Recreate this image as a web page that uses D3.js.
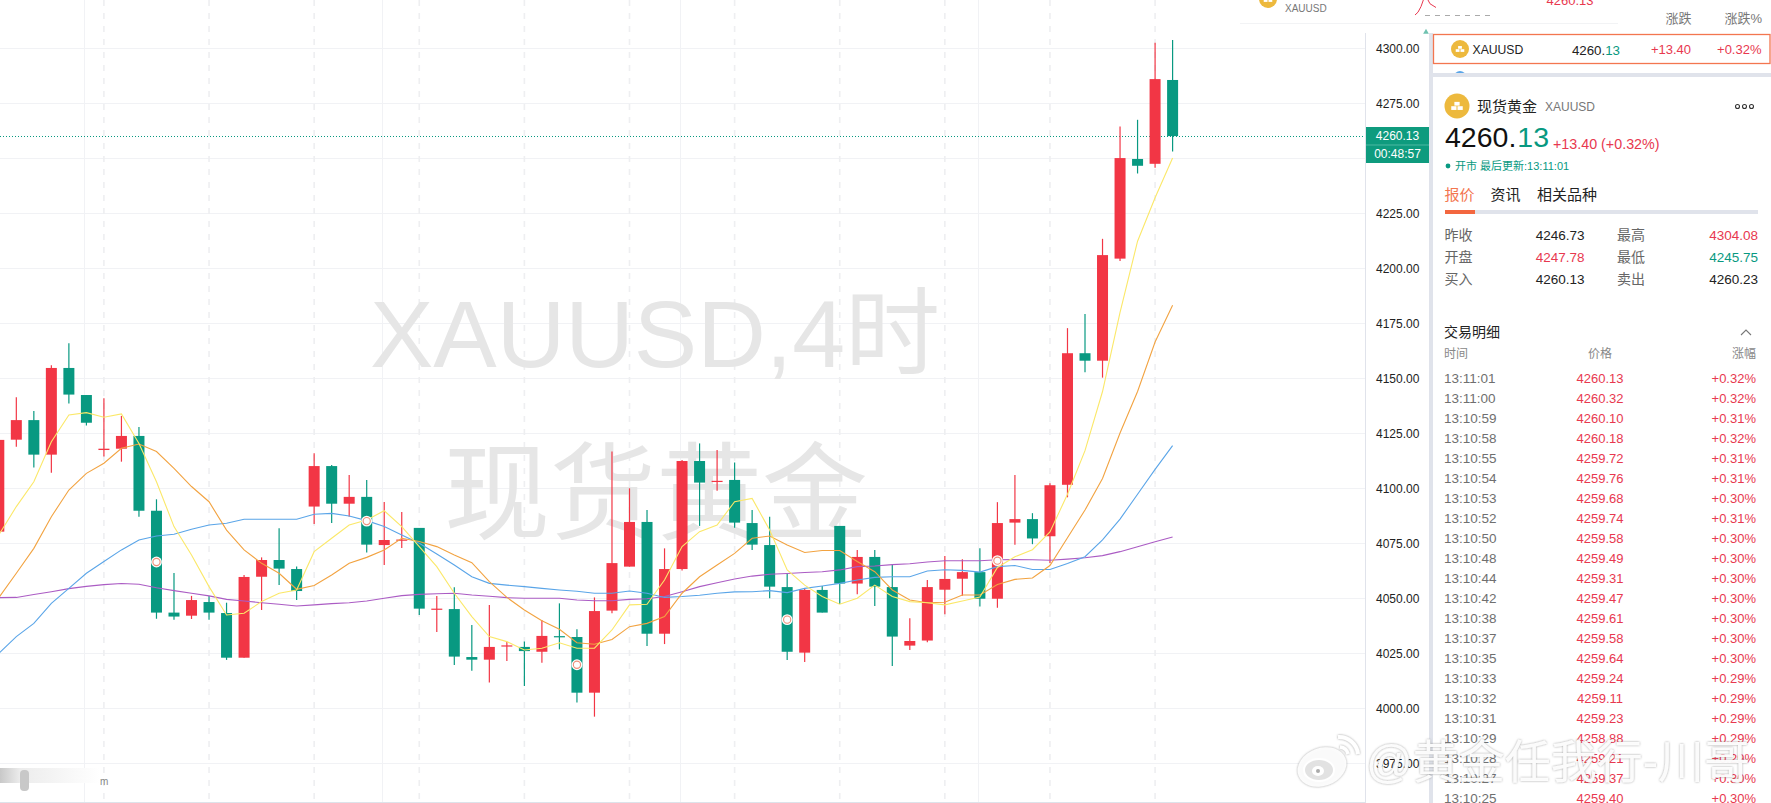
<!DOCTYPE html>
<html>
<head>
<meta charset="utf-8">
<script src="https://cdnjs.cloudflare.com/ajax/libs/d3/7.8.5/d3.min.js"></script>
<style>
html, body { margin: 0; padding: 0; background: #fff; overflow: hidden; }
svg { display: block; }
text { font-family: "Liberation Sans", "Noto Sans CJK SC", sans-serif; }
</style>
</head>
<body>
<svg id="chart" width="1771" height="803"></svg>
<script>
const open = [4080.3,4122.1,4131.0,4115.3,4154.7,4142.4,4117.4,4118.0,4123.8,4089.8,4043.5,4042.1,4048.3,4043.3,4023.0,4059.8,4067.4,4063.3,4091.7,4110.1,4093.0,4096.1,4074.2,4076.3,4082.0,4044.9,4045.1,4023.3,4022.1,4028.1,4027.9,4025.7,4032.8,4032.4,4007.1,4044.4,4064.4,4084.7,4033.9,4063.3,4112.4,4103.0,4103.8,4084.2,4074.2,4055.1,4025.3,4053.8,4082.9,4056.7,4068.8,4055.1,4028.5,4030.8,4053.9,4058.9,4061.9,4049.8,4084.4,4086.0,4078.2,4101.6,4161.4,4158.0,4204.4,4249.7,4247.5,4285.6];
const close = [4122.0,4131.0,4115.3,4154.7,4142.6,4129.8,4118.0,4123.8,4089.8,4043.5,4041.7,4049.2,4043.5,4023.0,4059.7,4067.4,4063.5,4053.3,4110.1,4093.0,4096.1,4074.4,4076.5,4076.7,4045.3,4045.3,4023.5,4022.1,4027.9,4028.6,4026.0,4032.9,4032.4,4007.1,4044.2,4066.0,4084.7,4033.9,4063.3,4112.4,4102.6,4103.4,4084.4,4074.4,4055.3,4025.7,4053.8,4043.5,4056.7,4068.8,4055.3,4032.6,4030.6,4055.1,4058.8,4061.9,4049.8,4084.2,4086.0,4077.2,4101.4,4161.4,4158.0,4206.0,4250.1,4246.6,4286.0,4260.1];
const high = [4122.0,4141.4,4135.1,4155.9,4165.9,4142.4,4140.9,4132.9,4127.9,4095.0,4061.5,4051.1,4051.1,4048.0,4060.6,4068.6,4081.8,4064.4,4115.9,4110.6,4106.1,4103.8,4093.8,4089.2,4082.0,4051.1,4055.0,4037.9,4047.0,4030.3,4030.4,4040.1,4047.7,4035.9,4050.4,4116.7,4100.0,4090.1,4072.7,4112.9,4120.4,4117.4,4111.7,4090.1,4087.1,4061.3,4054.5,4055.6,4082.9,4071.9,4071.9,4065.1,4040.9,4058.3,4069.2,4067.7,4072.7,4093.7,4106.1,4088.7,4102.3,4172.8,4179.2,4213.4,4264.5,4267.5,4302.5,4303.8];
const low = [4080.3,4118.9,4109.4,4107.1,4138.5,4128.5,4114.4,4112.1,4087.1,4040.7,4040.2,4040.6,4040.2,4022.0,4023.0,4044.7,4056.0,4049.2,4083.8,4084.2,4087.1,4070.8,4065.1,4072.9,4042.4,4034.7,4019.7,4017.1,4011.7,4021.5,4010.1,4020.7,4026.8,4002.6,3996.2,4043.2,4064.4,4028.3,4029.2,4062.6,4082.9,4098.9,4082.1,4071.9,4050.0,4021.9,4021.1,4043.5,4047.4,4051.8,4046.5,4019.2,4026.5,4030.0,4042.7,4051.2,4046.3,4045.7,4074.3,4074.6,4066.0,4095.9,4152.8,4150.3,4203.3,4243.1,4245.7,4253.1];

const ma5 = [4078.8,4091.7,4103.0,4121.2,4133.3,4134.4,4132.3,4133.8,4120.4,4103.0,4082.6,4069.7,4055.3,4042.4,4043.2,4048.5,4052.3,4053.8,4071.2,4077.3,4083.3,4085.6,4089.8,4082.6,4073.5,4064.4,4052.3,4041.7,4032.6,4030.3,4026.5,4027.3,4029.8,4027.3,4027.3,4035.6,4047.0,4047.3,4058.3,4073.5,4080.3,4083.3,4093.9,4095.4,4081.0,4062.9,4056.0,4050.8,4047.3,4050.0,4056.0,4050.8,4048.5,4048.0,4047.0,4048.8,4050.6,4064.0,4068.9,4072.1,4080.2,4097.3,4117.1,4144.0,4180.0,4212.3,4232.1,4250.1];
const ma10 = [4050.3,4061.4,4072.7,4087.1,4099.2,4106.8,4111.4,4118.2,4120.1,4116.7,4109.1,4100.8,4093.9,4081.0,4072.0,4065.9,4061.4,4054.1,4055.8,4060.6,4065.9,4068.6,4072.0,4077.3,4075.8,4073.5,4069.7,4066.2,4057.6,4050.4,4044.7,4039.8,4035.9,4029.8,4029.1,4031.3,4037.1,4038.6,4041.7,4052.3,4059.8,4065.1,4070.4,4077.3,4078.3,4074.2,4070.8,4071.7,4071.7,4066.7,4062.1,4053.8,4049.2,4048.0,4048.2,4051.5,4051.5,4056.3,4058.6,4059.2,4064.9,4077.5,4090.1,4104.5,4125.1,4144.0,4166.5,4183.2];
const ma30 = [4025.0,4032.6,4038.6,4047.7,4054.5,4061.4,4066.7,4072.0,4076.5,4078.3,4079.1,4081.4,4083.3,4084.1,4085.9,4085.9,4085.9,4085.9,4088.2,4088.6,4087.4,4085.3,4082.6,4078.8,4075.0,4070.1,4065.1,4059.8,4056.8,4056.0,4055.3,4054.5,4053.8,4053.2,4052.3,4052.3,4053.3,4052.3,4050.4,4050.8,4051.4,4052.3,4052.9,4053.0,4053.5,4052.6,4054.5,4055.6,4056.8,4058.3,4059.5,4059.8,4059.8,4062.4,4063.0,4062.7,4061.9,4064.4,4064.9,4063.1,4063.1,4065.8,4068.9,4076.6,4086.0,4097.3,4108.6,4119.4];
const ma60 = [4050.3,4050.4,4051.7,4053.0,4054.4,4055.4,4056.2,4056.7,4056.4,4054.8,4053.5,4052.3,4051.1,4049.5,4048.8,4048.0,4047.3,4046.5,4047.0,4047.6,4048.0,4048.8,4050.0,4051.2,4051.8,4052.1,4052.3,4051.5,4050.9,4050.3,4050.0,4050.0,4050.0,4049.2,4048.9,4048.9,4049.5,4049.8,4050.8,4053.0,4055.3,4057.1,4058.8,4060.1,4060.9,4061.3,4061.7,4062.1,4062.9,4064.4,4064.7,4065.3,4065.7,4066.5,4067.1,4067.1,4067.1,4067.5,4067.6,4067.5,4067.3,4067.8,4068.4,4069.4,4071.2,4073.4,4075.7,4077.9];

const priceTicks = [4300,4275,4225,4200,4175,4150,4125,4100,4075,4050,4025,4000,3975];
const gridPrices = [4300,4275,4250,4225,4200,4175,4150,4125,4100,4075,4050,4025,4000,3975];
const lastPrice = 4260.13;
const countdown = '00:48:57';

// circle flags sitting on the candles
const flagIndex = [9, 21, 33, 45, 57];
const flagPrice = [4066.5, 4085.1, 4019.8, 4040.3, 4067.1];

const sessionIndex = [6,12,18,24,30,36,42,48,54,60,66];
const dayIndex = [4.92,21.92,38.92,55.92];

const tickTimes = ['13:11:01','13:11:00','13:10:59','13:10:58','13:10:55','13:10:54','13:10:53','13:10:52','13:10:50','13:10:48','13:10:44','13:10:42','13:10:38','13:10:37','13:10:35','13:10:33','13:10:32','13:10:31','13:10:29','13:10:28','13:10:27','13:10:25'];
const tickPrices = ['4260.13','4260.32','4260.10','4260.18','4259.72','4259.76','4259.68','4259.74','4259.58','4259.49','4259.31','4259.47','4259.61','4259.58','4259.64','4259.24','4259.11','4259.23','4258.88','4259.21','4259.37','4259.40'];
const tickPct = ['+0.32%','+0.32%','+0.31%','+0.32%','+0.31%','+0.31%','+0.30%','+0.31%','+0.30%','+0.30%','+0.30%','+0.30%','+0.30%','+0.30%','+0.30%','+0.29%','+0.29%','+0.29%','+0.29%','+0.29%','+0.30%','+0.30%'];

const quoteLeftLabels = ['昨收','开盘','买入'];
const quoteLeftValues = ['4246.73','4247.78','4260.13'];
const quoteRightLabels = ['最高','最低','卖出'];
const quoteRightValues = ['4304.08','4245.75','4260.23'];
const tabs = ['报价','资讯','相关品种'];

const sparkValues = [0, 3, 9, 18, 18, 12, 10, 8];

const RED = '#f23645', GREEN = '#089981', TEXTRED = '#e8384f', PANELGREY = '#e0e3eb';

const svg = d3.select('#chart');
const x = d3.scaleLinear().domain([0, 67]).range([-1.2, 1172.6]);
const y = d3.scaleLinear().domain([4300, 4000]).range([48.3, 708.3]);
const indices = d3.range(open.length);

const defs = svg.append('defs');
defs.append('clipPath').attr('id', 'plot').append('rect').attr('width', 1366).attr('height', 803);
const fade = defs.append('linearGradient').attr('id', 'fade');
fade.append('stop').attr('offset', 0).attr('stop-color', '#c8c8c8');
fade.append('stop').attr('offset', 0.2).attr('stop-color', '#ececec');
fade.append('stop').attr('offset', 1).attr('stop-color', '#fff');
const glow = defs.append('filter').attr('id', 'glow')
    .attr('x', '-5%').attr('y', '-15%').attr('width', '110%').attr('height', '130%');
glow.append('feDropShadow').attr('dx', 0).attr('dy', 0).attr('stdDeviation', 1.3)
    .attr('flood-color', '#777').attr('flood-opacity', 0.75);

const plot = svg.append('g').attr('clip-path', 'url(#plot)');

// grid
plot.selectAll('.hgrid').data(gridPrices).join('line')
    .attr('x1', 0).attr('x2', 1366)
    .attr('y1', d => y(d)).attr('y2', d => y(d))
    .attr('stroke', '#f1f2f5').attr('stroke-width', 1)
    .attr('shape-rendering', 'crispEdges');
plot.selectAll('.vgrid').data(dayIndex).join('line')
    .attr('x1', d => x(d)).attr('x2', d => x(d))
    .attr('y1', 0).attr('y2', 802)
    .attr('stroke', '#f1f2f5').attr('stroke-width', 1)
    .attr('shape-rendering', 'crispEdges');
plot.selectAll('.vsession').data(sessionIndex).join('line')
    .attr('x1', d => x(d)).attr('x2', d => x(d))
    .attr('y1', 0).attr('y2', 802)
    .attr('stroke', '#eeeff1').attr('stroke-width', 1.6)
    .attr('stroke-dasharray', '6,7');

// big watermark behind the candles
plot.append('text').attr('x', 655).attr('y', 367)
    .attr('text-anchor', 'middle').attr('font-size', 95).attr('fill', '#e6e6e6')
    .text('XAUUSD,4时');
plot.append('text').attr('x', 656).attr('y', 531)
    .attr('text-anchor', 'middle').attr('font-size', 106).attr('fill', '#e6e6e6')
    .text('现货黄金');

// last price line
plot.append('line')
    .attr('x1', 0).attr('x2', 1366)
    .attr('y1', y(lastPrice)).attr('y2', y(lastPrice))
    .attr('stroke', GREEN).attr('stroke-width', 1).attr('stroke-dasharray', '1,2')
    .attr('shape-rendering', 'crispEdges');

// moving averages
const maLine = d3.line().x((d, i) => x(i)).y(d => y(d));
const maSeries = [
    {values: ma60, color: '#ab5cc4'},
    {values: ma30, color: '#5aa5e8'},
    {values: ma10, color: '#f2a341'},
    {values: ma5, color: '#fbe869'}
];

// candles
const candles = plot.selectAll('.candle').data(indices).join('g');
candles.append('line')
    .attr('x1', i => x(i)).attr('x2', i => x(i))
    .attr('y1', i => y(high[i])).attr('y2', i => y(low[i]))
    .attr('stroke', i => close[i] >= open[i] ? RED : GREEN)
    .attr('stroke-width', 1.2);
candles.append('rect')
    .attr('x', i => x(i) - 5.5)
    .attr('width', 11)
    .attr('y', i => y(Math.max(open[i], close[i])))
    .attr('height', i => Math.max(1.2, Math.abs(y(open[i]) - y(close[i]))))
    .attr('fill', i => close[i] >= open[i] ? RED : GREEN);

plot.selectAll('.ma').data(maSeries).join('path')
    .attr('d', d => maLine(d.values))
    .attr('fill', 'none').attr('stroke', d => d.color).attr('stroke-width', 1.1);

// flags
flagIndex.forEach(function(d, i) {
    plot.append('circle').attr('cx', x(d)).attr('cy', y(flagPrice[i])).attr('r', 5.4)
        .attr('fill', '#fff');
    plot.append('circle').attr('cx', x(d)).attr('cy', y(flagPrice[i])).attr('r', 3.6)
        .attr('fill', '#fff').attr('stroke', '#ee8f78').attr('stroke-width', 1.1);
});

// bottom left blur
plot.append('rect').attr('x', 0).attr('y', 768).attr('width', 100).attr('height', 15).attr('fill', 'url(#fade)');
plot.append('rect').attr('x', 20).attr('y', 770).attr('width', 9).attr('height', 21).attr('rx', 4).attr('fill', '#c8c8c8');
plot.append('text').attr('x', 100).attr('y', 785).attr('font-size', 10).attr('fill', '#888').text('m');

// price axis
svg.append('line').attr('x1', 1365.5).attr('x2', 1365.5).attr('y1', 33).attr('y2', 802).attr('stroke', PANELGREY);
svg.append('line').attr('x1', 0).attr('x2', 1366).attr('y1', 802.5).attr('y2', 802.5).attr('stroke', '#dde3ea');

const axis = d3.axisRight(y).tickValues(priceTicks).tickSize(0).tickPadding(0).tickFormat(d3.format('.2f'));
const axisG = svg.append('g').attr('transform', 'translate(1376,0)').call(axis);
axisG.select('.domain').remove();
axisG.selectAll('text').attr('font-size', 12).attr('fill', '#222')
    .style('font-family', '"Liberation Sans", sans-serif');

svg.append('rect').attr('x', 1366).attr('y', 127).attr('width', 63).attr('height', 36).attr('fill', '#0e9b7e');
svg.append('line').attr('x1', 1366).attr('x2', 1429).attr('y1', 145).attr('y2', 145).attr('stroke', '#4db8a2');
svg.append('text').attr('x', 1397.5).attr('y', 140).attr('text-anchor', 'middle').attr('font-size', 12).attr('fill', '#fff').text(lastPrice.toFixed(2));
svg.append('text').attr('x', 1397.5).attr('y', 158).attr('text-anchor', 'middle').attr('font-size', 12).attr('fill', '#fff').text(countdown);

// right panel
svg.append('rect').attr('x', 1429).attr('y', 0).attr('width', 4).attr('height', 803).attr('fill', PANELGREY);
svg.append('rect').attr('x', 1429).attr('y', 0).attr('width', 342).attr('height', 33).attr('fill', '#fff');
svg.append('rect').attr('x', 1433).attr('y', 73).attr('width', 338).attr('height', 4).attr('fill', PANELGREY);

function label(txt, px, py, size, color, anchor) {
    return svg.append('text').attr('x', px).attr('y', py)
        .attr('font-size', size).attr('fill', color)
        .attr('text-anchor', anchor || 'start')
        .attr('dominant-baseline', 'central')
        .text(txt);
}

function goldIcon(cx, cy, r) {
    svg.append('circle').attr('cx', cx).attr('cy', cy).attr('r', r).attr('fill', '#edb93d');
    const w = r * 0.42, h = r * 0.3;
    [[-w / 2, -h * 1.1], [-w - 0.5, 0.2], [0.5, 0.2]].forEach(function(p) {
        svg.append('rect').attr('x', cx + p[0]).attr('y', cy + p[1]).attr('width', w).attr('height', h).attr('fill', '#fff');
    });
}

// top strip, cut off by the screenshot
svg.append('line').attr('x1', 1240).attr('x2', 1618).attr('y1', 23.5).attr('y2', 23.5).attr('stroke', '#f2f3f5');
goldIcon(1268, -1, 9);
label('XAUUSD', 1285, 8, 10, '#777');
const sx = d3.scaleLinear().domain([0, sparkValues.length - 1]).range([1415, 1436]);
const sy = d3.scaleLinear().domain([0, 16]).range([15, 0]);
svg.append('path').attr('d', d3.line().x((d, i) => sx(i)).y(d => sy(d))(sparkValues))
    .attr('fill', 'none').attr('stroke', TEXTRED).attr('stroke-width', 1);
svg.append('line').attr('x1', 1425).attr('x2', 1491).attr('y1', 15.5).attr('y2', 15.5)
    .attr('stroke', '#aaa').attr('stroke-dasharray', '5,5');
label('4260.13', 1570, 0, 13, TEXTRED, 'middle');
label('涨跌', 1691.5, 18, 13, '#777', 'end');
label('涨跌%', 1762, 18, 13, '#777', 'end');
svg.append('path').attr('d', d3.symbol(d3.symbolTriangle, 14)())
    .attr('transform', 'translate(1426,32)').attr('fill', '#6fc2b0');

// selected row
svg.append('rect').attr('x', 1433.5).attr('y', 34.5).attr('width', 336.5).attr('height', 29)
    .attr('fill', '#fff').attr('stroke', '#f3764f').attr('stroke-width', 1.3);
svg.append('path').attr('d', d3.arc()({innerRadius: 0, outerRadius: 6, startAngle: -Math.PI / 2, endAngle: Math.PI / 2}))
    .attr('transform', 'translate(1460,77)').attr('fill', '#5aa5e8');
svg.append('rect').attr('x', 1433).attr('y', 73).attr('width', 338).attr('height', 4).attr('fill', PANELGREY);
goldIcon(1460, 49, 9);
label('XAUUSD', 1472.5, 49.5, 12.2, '#222');
const rowPrice = label('', 1620, 49.5, 13.3, '#222', 'end');
rowPrice.append('tspan').text('4260.');
rowPrice.append('tspan').attr('fill', GREEN).text('13');
label('+13.40', 1691, 49.5, 13, TEXTRED, 'end');
label('+0.32%', 1761.5, 49.5, 13, TEXTRED, 'end');

// symbol header
goldIcon(1457, 106, 12.5);
label('现货黄金', 1477, 106, 15, '#222');
label('XAUUSD', 1545, 107, 12, '#777');
d3.range(3).forEach(function(i) {
    svg.append('circle').attr('cx', 1737.5 + i * 7).attr('cy', 106.5).attr('r', 2)
        .attr('fill', 'none').attr('stroke', '#333').attr('stroke-width', 1.1);
});
const big = svg.append('text').attr('x', 1445).attr('y', 147).attr('font-size', 28.5).attr('fill', '#111');
big.append('tspan').text('4260.');
big.append('tspan').attr('dx', 1).attr('fill', GREEN).text('13');
svg.append('text').attr('x', 1553).attr('y', 149).attr('font-size', 14.3).attr('fill', TEXTRED).text('+13.40 (+0.32%)');
svg.append('circle').attr('cx', 1448).attr('cy', 166).attr('r', 2.4).attr('fill', GREEN);
label('开市 最后更新:13:11:01', 1455, 166, 11, GREEN);

// tabs
const tabX = [1444.5, 1490.5, 1537];
tabs.forEach(function(t, i) {
    label(t, tabX[i], 194, 15, i == 0 ? '#f3764f' : '#222');
});
svg.append('rect').attr('x', 1445).attr('y', 210).attr('width', 313).attr('height', 4).attr('fill', PANELGREY);
svg.append('rect').attr('x', 1445).attr('y', 210).attr('width', 30).attr('height', 4).attr('fill', '#f3673f');

// quote table
const valueColor = {'4247.78': TEXTRED, '4304.08': TEXTRED, '4245.75': GREEN};
quoteLeftLabels.forEach(function(t, i) {
    const py = 235 + i * 22;
    label(t, 1444.5, py, 14, '#666');
    label(quoteLeftValues[i], 1584.5, py, 13.5, valueColor[quoteLeftValues[i]] || '#222', 'end');
    label(quoteRightLabels[i], 1617, py, 14, '#666');
    label(quoteRightValues[i], 1758, py, 13.5, valueColor[quoteRightValues[i]] || '#222', 'end');
});

// trade list
label('交易明细', 1444, 332, 14, '#222');
svg.append('path').attr('d', 'M1741 335L1746 330L1751 335').attr('fill', 'none').attr('stroke', '#777').attr('stroke-width', 1.1);
label('时间', 1444, 354, 12, '#888');
label('价格', 1600, 354, 12, '#888', 'middle');
label('涨幅', 1756, 354, 12, '#888', 'end');

const rowY = d3.scaleLinear().domain([0, 1]).range([378.5, 398.5]);
svg.selectAll('.t-time').data(tickTimes).join('text')
    .attr('x', 1444).attr('y', (d, i) => rowY(i))
    .attr('dominant-baseline', 'central').attr('font-size', 13.5).attr('fill', '#6f6f6f')
    .text(d => d);
svg.selectAll('.t-price').data(tickPrices).join('text')
    .attr('x', 1600).attr('y', (d, i) => rowY(i))
    .attr('text-anchor', 'middle').attr('dominant-baseline', 'central').attr('font-size', 13).attr('fill', TEXTRED)
    .text(d => d);
svg.selectAll('.t-pct').data(tickPct).join('text')
    .attr('x', 1756).attr('y', (d, i) => rowY(i))
    .attr('text-anchor', 'end').attr('dominant-baseline', 'central').attr('font-size', 13).attr('fill', TEXTRED)
    .text(d => d);

// weibo stamp over everything
const stamp = svg.append('g').attr('filter', 'url(#glow)');
stamp.append('text').attr('x', 1366).attr('y', 778).attr('font-size', 46)
    .attr('fill', 'rgba(255,255,255,0.93)').text('@黄金任我行-川哥');
stamp.append('ellipse').attr('cx', 1322).attr('cy', 767).attr('rx', 25).attr('ry', 19)
    .attr('fill', 'rgba(255,255,255,0.93)')
    .attr('transform', 'rotate(-20 1322 767)');
stamp.append('ellipse').attr('cx', 1319).attr('cy', 770).attr('rx', 15).attr('ry', 11)
    .attr('fill', '#e2e2e2').attr('stroke', '#fff').attr('stroke-width', 2);
stamp.append('ellipse').attr('cx', 1318).attr('cy', 771).attr('rx', 6).attr('ry', 5).attr('fill', '#fff');
stamp.append('circle').attr('cx', 1318).attr('cy', 771).attr('r', 2).attr('fill', '#aaa');
stamp.append('path').attr('d', 'M1338 737A19 19 0 0 1 1358 754').attr('fill', 'none')
    .attr('stroke', '#fff').attr('stroke-width', 4);
stamp.append('path').attr('d', 'M1340 747A9 9 0 0 1 1348 754').attr('fill', 'none')
    .attr('stroke', '#fff').attr('stroke-width', 3.5);
</script>
</body>
</html>
